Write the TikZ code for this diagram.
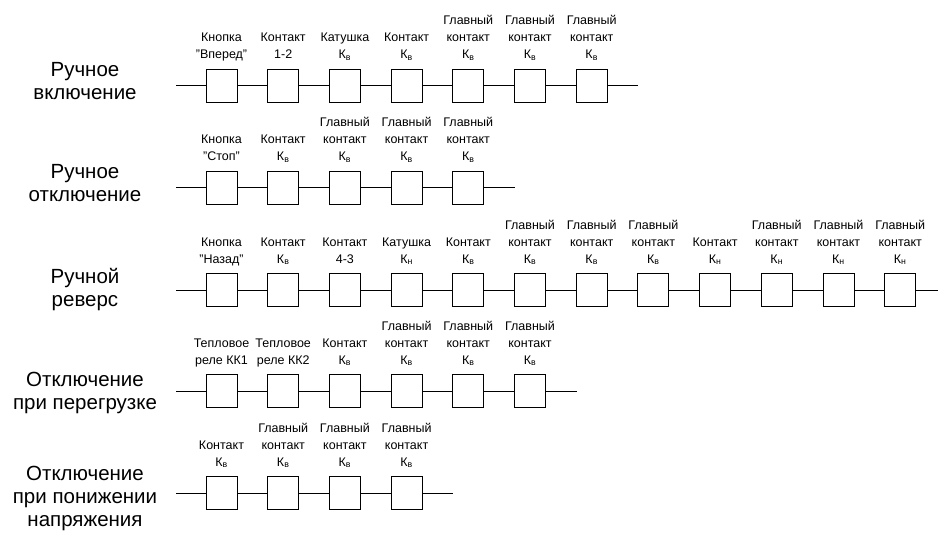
\documentclass[tikz,border=0pt]{standalone}
\usepackage{fontspec}
\setmainfont{Liberation Sans}
\usepackage{tikz}
\usetikzlibrary{positioning}
\newcommand{\Kv}{К\textsubscript{в}}
\newcommand{\Kn}{К\textsubscript{н}}
\tikzset{
  relay/.style={draw, line width=0.9pt, minimum width=31pt, minimum height=33pt, inner sep=0pt},
  tag/.style={align=center, inner sep=0pt, outer sep=0pt, text depth=0pt, font=\fontsize{12.5}{17}\selectfont},
  mode/.style={align=center, inner sep=0pt, font=\fontsize{20.5}{23}\selectfont},
  wire/.style={line width=0.9pt}
}

\begin{document}
\begin{tikzpicture}[x=1pt,y=1pt]
\useasboundingbox (0,0) rectangle (938,-534);
\node[mode] (m1) at (85,-81) {Ручное\\включение};
\coordinate (a0) at (176,-85.5);
\node[relay] (a1) at (221.5,-85.5) {};
\node[relay] (a2) at (283.2,-85.5) {};
\node[relay] (a3) at (344.9,-85.5) {};
\node[relay] (a4) at (406.6,-85.5) {};
\node[relay] (a5) at (468.3,-85.5) {};
\node[relay] (a6) at (530,-85.5) {};
\node[relay] (a7) at (591.7,-85.5) {};
\coordinate (a8) at (638,-85.5);
\node[tag, above=10pt of a1] (ta1) {Кнопка\\"Вперед"};
\node[tag, above=10pt of a2] (ta2) {Контакт\\1-2};
\node[tag, above=10pt of a3] (ta3) {Катушка\\\Kv};
\node[tag, above=10pt of a4] (ta4) {Контакт\\\Kv};
\node[tag, above=10pt of a5] (ta5) {Главный\\контакт\\\Kv};
\node[tag, above=10pt of a6] (ta6) {Главный\\контакт\\\Kv};
\node[tag, above=10pt of a7] (ta7) {Главный\\контакт\\\Kv};
\draw[wire] (a0) -- (a1) -- (a2) -- (a3) -- (a4) -- (a5) -- (a6) -- (a7) -- (a8);

\node[mode] (m2) at (85,-183) {Ручное\\отключение};
\coordinate (b0) at (176,-187.5);
\node[relay] (b1) at (221.5,-187.5) {};
\node[relay] (b2) at (283.2,-187.5) {};
\node[relay] (b3) at (344.9,-187.5) {};
\node[relay] (b4) at (406.6,-187.5) {};
\node[relay] (b5) at (468.3,-187.5) {};
\coordinate (b6) at (515,-187.5);
\node[tag, above=10pt of b1] (tb1) {Кнопка\\"Стоп"};
\node[tag, above=10pt of b2] (tb2) {Контакт\\\Kv};
\node[tag, above=10pt of b3] (tb3) {Главный\\контакт\\\Kv};
\node[tag, above=10pt of b4] (tb4) {Главный\\контакт\\\Kv};
\node[tag, above=10pt of b5] (tb5) {Главный\\контакт\\\Kv};
\draw[wire] (b0) -- (b1) -- (b2) -- (b3) -- (b4) -- (b5) -- (b6);

\node[mode] (m3) at (85,-290) {Ручной\\реверс};
\coordinate (c0) at (176,-290);
\node[relay] (c1) at (221.5,-290) {};
\node[relay] (c2) at (283.2,-290) {};
\node[relay] (c3) at (344.9,-290) {};
\node[relay] (c4) at (406.6,-290) {};
\node[relay] (c5) at (468.3,-290) {};
\node[relay] (c6) at (530,-290) {};
\node[relay] (c7) at (591.7,-290) {};
\node[relay] (c8) at (653.4,-290) {};
\node[relay] (c9) at (715.1,-290) {};
\node[relay] (c10) at (776.8,-290) {};
\node[relay] (c11) at (838.5,-290) {};
\node[relay] (c12) at (900.2,-290) {};
\coordinate (c13) at (938,-290);
\node[tag, above=10pt of c1] (tc1) {Кнопка\\"Назад"};
\node[tag, above=10pt of c2] (tc2) {Контакт\\\Kv};
\node[tag, above=10pt of c3] (tc3) {Контакт\\4-3};
\node[tag, above=10pt of c4] (tc4) {Катушка\\\Kn};
\node[tag, above=10pt of c5] (tc5) {Контакт\\\Kv};
\node[tag, above=10pt of c6] (tc6) {Главный\\контакт\\\Kv};
\node[tag, above=10pt of c7] (tc7) {Главный\\контакт\\\Kv};
\node[tag, above=10pt of c8] (tc8) {Главный\\контакт\\\Kv};
\node[tag, above=10pt of c9] (tc9) {Контакт\\\Kn};
\node[tag, above=10pt of c10] (tc10) {Главный\\контакт\\\Kn};
\node[tag, above=10pt of c11] (tc11) {Главный\\контакт\\\Kn};
\node[tag, above=10pt of c12] (tc12) {Главный\\контакт\\\Kn};
\draw[wire] (c0) -- (c1) -- (c2) -- (c3) -- (c4) -- (c5) -- (c6) -- (c7) -- (c8) -- (c9) -- (c10) -- (c11) -- (c12) -- (c13);

\node[mode] (m4) at (85,-393) {Отключение\\при перегрузке};
\coordinate (d0) at (176,-391);
\node[relay] (d1) at (221.5,-391) {};
\node[relay] (d2) at (283.2,-391) {};
\node[relay] (d3) at (344.9,-391) {};
\node[relay] (d4) at (406.6,-391) {};
\node[relay] (d5) at (468.3,-391) {};
\node[relay] (d6) at (530,-391) {};
\coordinate (d7) at (576.5,-391);
\node[tag, above=10pt of d1] (td1) {Тепловое\\реле КК1};
\node[tag, above=10pt of d2] (td2) {Тепловое\\реле КК2};
\node[tag, above=10pt of d3] (td3) {Контакт\\\Kv};
\node[tag, above=10pt of d4] (td4) {Главный\\контакт\\\Kv};
\node[tag, above=10pt of d5] (td5) {Главный\\контакт\\\Kv};
\node[tag, above=10pt of d6] (td6) {Главный\\контакт\\\Kv};
\draw[wire] (d0) -- (d1) -- (d2) -- (d3) -- (d4) -- (d5) -- (d6) -- (d7);

\node[mode] (m5) at (85,-498) {Отключение\\при понижении\\напряжения};
\coordinate (e0) at (176,-493);
\node[relay] (e1) at (221.5,-493) {};
\node[relay] (e2) at (283.2,-493) {};
\node[relay] (e3) at (344.9,-493) {};
\node[relay] (e4) at (406.6,-493) {};
\coordinate (e5) at (453,-493);
\node[tag, above=10pt of e1] (te1) {Контакт\\\Kv};
\node[tag, above=10pt of e2] (te2) {Главный\\контакт\\\Kv};
\node[tag, above=10pt of e3] (te3) {Главный\\контакт\\\Kv};
\node[tag, above=10pt of e4] (te4) {Главный\\контакт\\\Kv};
\draw[wire] (e0) -- (e1) -- (e2) -- (e3) -- (e4) -- (e5);
\end{tikzpicture}
\end{document}
